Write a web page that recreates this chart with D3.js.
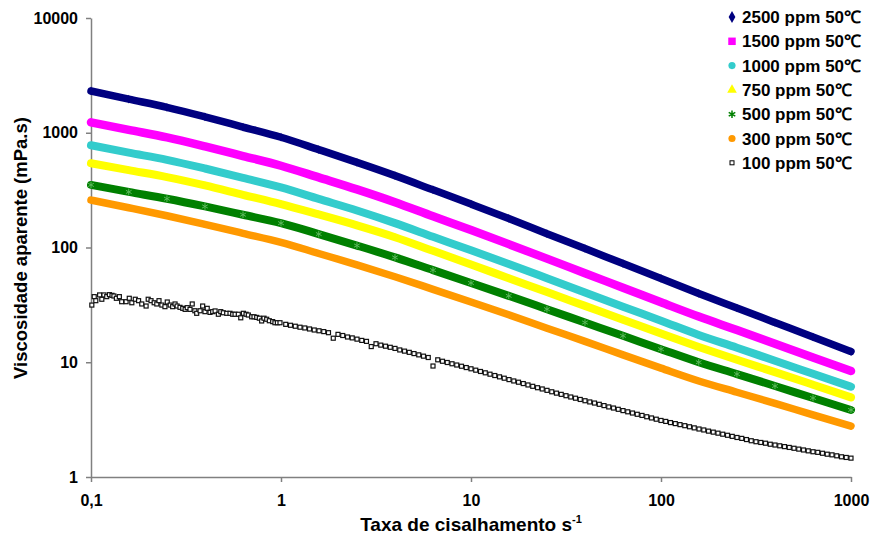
<!DOCTYPE html>
<html>
<head>
<meta charset="utf-8">
<script src="https://cdn.jsdelivr.net/npm/d3@7"></script>
<style>
  body { margin: 0; background: #fff; }
  svg text { font-family: Arial, "Liberation Sans", sans-serif; font-weight: bold; fill: #000; }
</style>
</head>
<body>
<div id="chart"></div>
<script>
// shear rate (s-1) shared by the dense series
var shearRate = [0.1, 0.158, 0.251, 0.398, 0.631, 1, 1.58, 2.51, 3.98, 6.31,
  10, 15.8, 25.1, 39.8, 63.1, 100, 158, 251, 398, 631, 1000];

// apparent viscosity (mPa.s)
var visc2500 = [2312, 1963, 1667, 1377, 1122, 914, 713, 552, 423, 318,
  239, 179, 132, 98, 72.4, 53.7, 39.8, 29.7, 22.2, 16.6, 12.4];
var visc1500 = [1233, 1059, 910, 760, 627, 516, 408, 321, 248, 187,
  142, 107, 80.0, 59.7, 44.6, 33.3, 25.0, 19.1, 14.5, 11.0, 8.39];
var visc1000 = [778, 671, 581, 488, 404, 334, 265, 210, 163, 124,
  94.6, 71.8, 54.0, 40.6, 30.5, 23.0, 17.3, 13.4, 10.3, 7.94, 6.12];
var visc750 = [542, 472, 411, 348, 288, 239, 194, 156, 123, 93.5,
  71.1, 54.0, 40.9, 31.0, 23.5, 17.8, 13.6, 10.5, 8.20, 6.37, 4.94];
var visc500 = [351, 305, 266, 228, 193, 163, 131, 104, 82.0, 63.5,
  49.1, 37.9, 29.0, 22.2, 17.0, 13.0, 10.0, 7.89, 6.21, 4.88, 3.84];
var visc300 = [259, 222, 189, 159, 133, 111, 88.7, 70.6, 55.6, 43.2,
  33.5, 25.9, 19.8, 15.2, 11.6, 8.89, 6.87, 5.48, 4.38, 3.48, 2.78];

// 100 ppm has its own (noisier) readings
var shear100 = [0.101, 0.104, 0.106, 0.111, 0.114, 0.117, 0.121, 0.125, 0.129, 0.132,
  0.136, 0.141, 0.145, 0.153, 0.159, 0.164, 0.171, 0.178, 0.185, 0.195,
  0.200, 0.207, 0.215, 0.222, 0.228, 0.236, 0.245, 0.252, 0.261, 0.269,
  0.277, 0.284, 0.294, 0.304, 0.313, 0.321, 0.332, 0.341, 0.352, 0.360,
  0.375, 0.387, 0.398, 0.409, 0.423, 0.437, 0.450, 0.468, 0.482, 0.497,
  0.518, 0.539, 0.557, 0.573, 0.596, 0.614, 0.634, 0.655, 0.673, 0.701,
  0.721, 0.745, 0.769, 0.791, 0.814, 0.841, 0.868, 0.904, 0.929, 0.957, 0.988,
  1.059, 1.122, 1.189, 1.259, 1.334, 1.413, 1.496, 1.585, 1.679, 1.778,
  1.884, 1.995, 2.113, 2.239, 2.371, 2.512, 2.661, 2.818, 2.985, 3.162,
  3.350, 3.548, 3.758, 3.981, 4.217, 4.467, 4.732, 5.012, 5.309, 5.623,
  5.957, 6.310, 6.683, 7.079, 7.499, 7.943, 8.414, 8.913, 9.441, 10.00,
  10.59, 11.22, 11.89, 12.59, 13.34, 14.13, 14.96, 15.85, 16.79, 17.78,
  18.84, 19.95, 21.13, 22.39, 23.71, 25.12, 26.61, 28.18, 29.85, 31.62,
  33.50, 35.48, 37.58, 39.81, 42.17, 44.67, 47.32, 50.12, 53.09, 56.23,
  59.57, 63.10, 66.83, 70.79, 74.99, 79.43, 84.14, 89.13, 94.41, 100.0,
  105.9, 112.2, 118.9, 125.9, 133.4, 141.3, 149.6, 158.5, 167.9, 177.8,
  188.4, 199.5, 211.3, 223.9, 237.1, 251.2, 266.1, 281.8, 298.5, 316.2,
  335.0, 354.8, 375.8, 398.1, 421.7, 446.7, 473.2, 501.2, 530.9, 562.3,
  595.7, 631.0, 668.3, 707.9, 749.9, 794.3, 841.4, 891.3, 944.1, 1000];
var visc100 = [31.5, 37.3, 34.4, 38.6, 35.4, 38.6, 37.3, 38.8, 38.3, 37.8,
  36.1, 37.3, 33.7, 33.7, 36.1, 33.0, 35.4, 34.4, 32.2, 30.9,
  35.4, 34.4, 33.0, 32.2, 34.4, 31.5, 30.5, 33.5, 31.5, 30.5,
  32.2, 30.9, 30.1, 29.5, 28.9, 29.9, 28.9, 32.2, 28.1, 26.7,
  28.1, 30.9, 27.6, 29.5, 27.2, 27.6, 28.0, 26.2, 27.6, 27.0,
  26.7, 26.7, 26.2, 26.2, 26.2, 24.4, 26.7, 26.2, 25.8, 24.9,
  24.9, 24.6, 24.2, 22.9, 24.2, 23.7, 23.0, 22.6, 22.1, 22.1, 22.1,
  21.4, 21.0, 20.6, 20.2, 19.9, 19.5, 19.1, 18.8, 18.5, 18.1,
  16.2, 17.5, 17.1, 16.6, 16.3, 15.9, 15.5, 15.2, 13.7, 14.5,
  14.1, 13.8, 13.5, 13.2, 12.8, 12.5, 12.2, 11.9, 11.6, 11.3,
  11.0, 9.27, 10.5, 10.2, 9.95, 9.70, 9.46, 9.23, 8.99, 8.77,
  8.53, 8.31, 8.09, 7.87, 7.66, 7.46, 7.26, 7.06, 6.87, 6.70,
  6.52, 6.34, 6.17, 6.00, 5.85, 5.69, 5.53, 5.38, 5.25, 5.11,
  4.98, 4.86, 4.74, 4.62, 4.51, 4.41, 4.30, 4.19, 4.08, 3.99,
  3.89, 3.79, 3.70, 3.61, 3.52, 3.44, 3.35, 3.27, 3.19, 3.11,
  3.05, 2.98, 2.92, 2.86, 2.80, 2.74, 2.68, 2.62, 2.57, 2.51,
  2.46, 2.41, 2.36, 2.31, 2.26, 2.21, 2.17, 2.12, 2.07, 2.03,
  2.00, 1.97, 1.93, 1.90, 1.87, 1.84, 1.81, 1.78, 1.75, 1.72,
  1.69, 1.66, 1.64, 1.61, 1.58, 1.56, 1.53, 1.50, 1.48, 1.46];

var seriesNames = ["2500 ppm 50℃", "1500 ppm 50℃", "1000 ppm 50℃", "750 ppm 50℃",
  "500 ppm 50℃", "300 ppm 50℃", "100 ppm 50℃"];
var xTicks = [0.1, 1, 10, 100, 1000];
var xTickLabels = ["0,1", "1", "10", "100", "1000"];
var yTicks = [1, 10, 100, 1000, 10000];

var W = 873, H = 538;
var svg = d3.select("#chart").append("svg")
  .attr("width", W)
  .attr("height", H);

var x = d3.scaleLog().domain([0.1, 1000]).range([91, 851]);
var y = d3.scaleLog().domain([1, 10000]).range([477, 18]);

var series = [
  { name: seriesNames[0], xs: shearRate, ys: visc2500, color: "#000080", symbol: d3.symbolDiamond, size: 40, mk: 22, band: 7.5 },
  { name: seriesNames[1], xs: shearRate, ys: visc1500, color: "#FF00FF", symbol: d3.symbolSquare, size: 56, mk: 30, band: 8.5 },
  { name: seriesNames[2], xs: shearRate, ys: visc1000, color: "#33CCCC", symbol: d3.symbolCircle, size: 40, mk: 26, band: 8 },
  { name: seriesNames[3], xs: shearRate, ys: visc750, color: "#FFFF00", symbol: d3.symbolTriangle, size: 40, mk: 22, band: 8 },
  { name: seriesNames[4], xs: shearRate, ys: visc500, color: "#008000", symbol: d3.symbolAsterisk, size: 40, mk: 30, band: 8, stroke: true },
  { name: seriesNames[5], xs: shearRate, ys: visc300, color: "#FF9900", symbol: d3.symbolCircle, size: 40, mk: 26, band: 7.5 },
  { name: seriesNames[6], xs: shear100, ys: visc100, color: "#000000", open: true }
];

// axes
var xAxis = d3.axisBottom(x)
  .tickValues(xTicks)
  .tickFormat(function(d, i) { return xTickLabels[i]; })
  .tickSize(5)
  .tickSizeOuter(0)
  .tickPadding(13);

var yAxis = d3.axisLeft(y)
  .tickValues(yTicks)
  .tickFormat(d3.format("d"))
  .tickSize(5)
  .tickSizeOuter(0)
  .tickPadding(8);

var gx = svg.append("g")
  .attr("transform", "translate(0,477)")
  .call(xAxis);
var gy = svg.append("g")
  .attr("transform", "translate(91,0)")
  .call(yAxis);

[gx, gy].forEach(function(g) {
  g.selectAll("path, line").attr("stroke", "#808080").attr("stroke-width", 1.5);
  g.selectAll("text").attr("font-size", 16).attr("font-family", "Arial, 'Liberation Sans', sans-serif")
    .attr("font-weight", "bold");
});

// data
var line = d3.line()
  .x(function(d) { return x(d[0]); })
  .y(function(d) { return y(d[1]); })
  .curve(d3.curveMonotoneX);

series.forEach(function(s) {
  var pts = s.xs.map(function(v, i) { return [v, s.ys[i]]; });
  var g = svg.append("g");
  if (s.open) {
    g.selectAll("rect")
      .data(pts)
      .enter()
      .append("rect")
        .attr("x", function(d) { return x(d[0]) - 2; })
        .attr("y", function(d) { return y(d[1]) - 2; })
        .attr("width", 4)
        .attr("height", 4)
        .attr("fill", "#fff")
        .attr("stroke", "#111")
        .attr("stroke-width", 1.2);
    return;
  }
  g.append("path")
    .datum(pts)
    .attr("d", line)
    .attr("fill", "none")
    .attr("stroke", s.color)
    .attr("stroke-width", s.band)
    .attr("stroke-linecap", "round");
  var sym = d3.symbol().type(s.symbol).size(s.mk);
  g.selectAll("path.mk")
    .data(pts)
    .enter()
    .append("path")
      .attr("class", "mk")
      .attr("d", sym)
      .attr("transform", function(d) { return "translate(" + x(d[0]) + "," + y(d[1]) + ")"; })
      .attr("fill", s.stroke ? "none" : s.color)
      .attr("stroke", s.stroke ? "#5cb85c" : "none")
      .attr("stroke-width", 1);
});

// legend
var legend = svg.append("g").attr("transform", "translate(732,17)");
series.forEach(function(s, i) {
  var row = legend.append("g").attr("transform", "translate(0," + (i * 24.3) + ")");
  if (s.open) {
    row.append("rect")
      .attr("x", -2).attr("y", -2).attr("width", 4).attr("height", 4)
      .attr("fill", "#fff").attr("stroke", "#000").attr("stroke-width", 1);
  } else {
    row.append("path")
      .attr("d", d3.symbol().type(s.symbol).size(s.size)())
      .attr("fill", s.stroke ? "none" : s.color)
      .attr("stroke", s.stroke ? s.color : "none")
      .attr("stroke-width", 1.5);
  }
  row.append("text")
    .attr("x", 10)
    .attr("y", 6)
    .attr("font-size", 17)
    .text(s.name);
});

// axis titles
svg.append("text")
  .attr("x", 471)
  .attr("y", 531)
  .attr("text-anchor", "middle")
  .attr("font-size", 19)
  .text("Taxa de cisalhamento s")
  .append("tspan")
    .attr("dy", -8)
    .attr("font-size", 11)
    .text("-1");

svg.append("text")
  .attr("transform", "translate(27,248) rotate(-90)")
  .attr("text-anchor", "middle")
  .attr("font-size", 18.5)
  .text("Viscosidade aparente (mPa.s)");
</script>
</body>
</html>
